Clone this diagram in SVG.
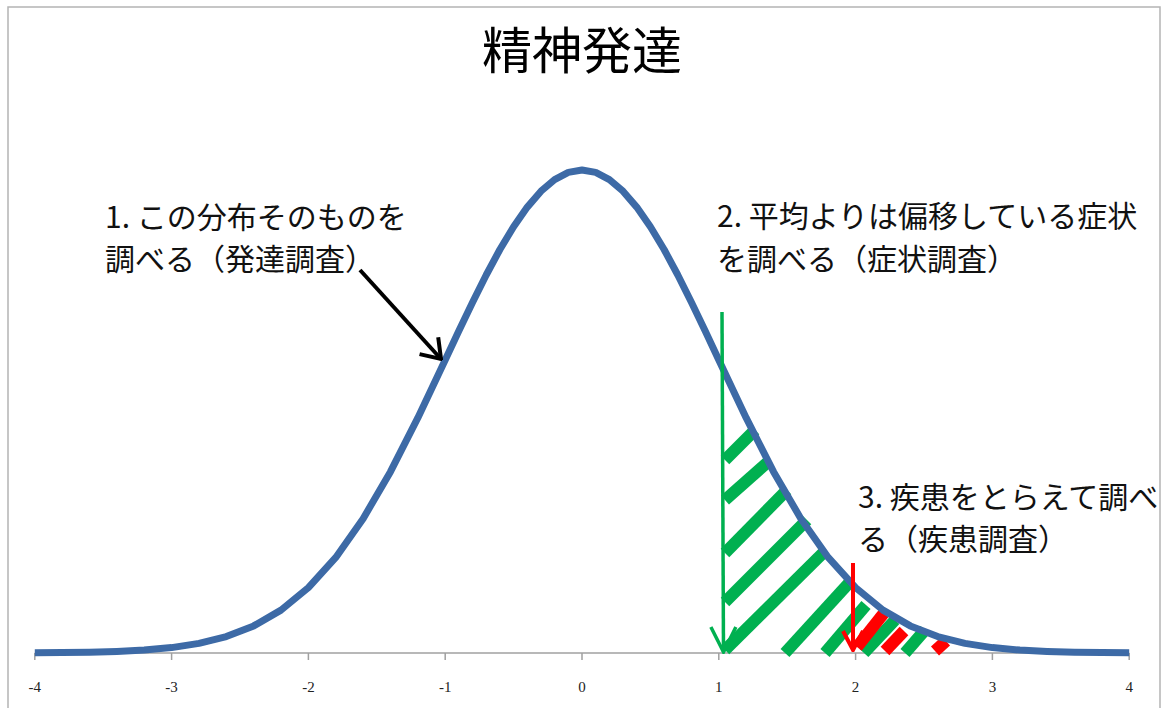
<svg xmlns="http://www.w3.org/2000/svg" width="1168" height="708" viewBox="0 0 1168 708">
<style>
.frame{stroke:#b4b4b4;stroke-width:1.5;fill:none}
.axis{stroke:#a0a0a0;stroke-width:1.5;fill:none}
.tick{font-family:"Liberation Serif","DejaVu Serif",serif;font-size:15px;fill:#222;text-anchor:middle}
.title{font-family:"Noto Sans CJK JP","Noto Sans CJK SC",sans-serif;font-size:50px;fill:#000;text-anchor:middle}
.lbl{font-family:"Noto Sans CJK JP","Noto Sans CJK SC",sans-serif;font-size:30px;fill:#111}
.curve{stroke:#3d6aa6;stroke-width:7;fill:none;stroke-linejoin:round;stroke-linecap:butt}
.gs{stroke:#00b050;stroke-width:12;stroke-linecap:butt}
.rs{stroke:#ff0000;stroke-width:12;stroke-linecap:butt}
</style>
<defs>
<marker id="ahBlack" markerUnits="userSpaceOnUse" viewBox="-22 -16 24 32" markerWidth="24" markerHeight="32" refX="0" refY="0" orient="auto">
<path d="M-18,-12.6 L0,0 L-18,12.6" fill="none" stroke="#000" stroke-width="4"/>
</marker>
<marker id="ahGreen" markerUnits="userSpaceOnUse" viewBox="-28 -16 30 32" markerWidth="30" markerHeight="32" refX="0" refY="0" orient="auto">
<path d="M-25,-12.5 L0,0 L-25,12.5" fill="none" stroke="#00b050" stroke-width="3.5"/>
</marker>
<marker id="ahRed" markerUnits="userSpaceOnUse" viewBox="-22 -14 24 28" markerWidth="24" markerHeight="28" refX="0" refY="0" orient="auto">
<path d="M-19,-10 L0,0 L-19,10" fill="none" stroke="#ff0000" stroke-width="4"/>
</marker>
</defs>
<rect width="1168" height="708" fill="#fff"/>
<g id="frame">
<path class="frame" d="M8,708 L8,7 L1160,7 L1160,708"/>
</g>
<g id="title">
<text class="title" x="582" y="69">精神発達</text>
</g>
<g id="axis">
<path class="axis" d="M34.8,653 L1129.2,653"/>
<path class="axis" d="M34.8,653 V660 M171.6,653 V660 M308.4,653 V660 M445.2,653 V660 M582,653 V660 M718.8,653 V660 M855.6,653 V660 M992.4,653 V660 M1129.2,653 V660"/>
<text class="tick" x="34.8" y="692">-4</text>
<text class="tick" x="171.6" y="692">-3</text>
<text class="tick" x="308.4" y="692">-2</text>
<text class="tick" x="445.2" y="692">-1</text>
<text class="tick" x="582" y="692">0</text>
<text class="tick" x="718.8" y="692">1</text>
<text class="tick" x="855.6" y="692">2</text>
<text class="tick" x="992.4" y="692">3</text>
<text class="tick" x="1129.2" y="692">4</text>
</g>
<g id="hatch">
<line class="gs" x1="725" y1="460" x2="755" y2="430"/>
<line class="gs" x1="725" y1="500" x2="769" y2="461"/>
<line class="gs" x1="725" y1="553" x2="787" y2="490"/>
<line class="gs" x1="725" y1="602" x2="807" y2="520"/>
<line class="gs" x1="725" y1="650" x2="825" y2="551"/>
<line class="gs" x1="785" y1="653" x2="849" y2="583"/>
<line class="gs" x1="825" y1="653" x2="866" y2="605"/>
<line class="gs" x1="864" y1="653" x2="895" y2="620"/>
<line class="gs" x1="905" y1="653" x2="925" y2="630"/>
<line class="rs" x1="857" y1="647" x2="884" y2="613"/>
<line class="rs" x1="885" y1="651" x2="904" y2="631"/>
<line class="rs" x1="935" y1="651" x2="946" y2="641"/>
</g>
<g id="curve">
<polyline class="curve" points="34.8,652.8 62.2,652.6 89.5,652.3 116.9,651.5 144.2,650.1 171.6,647.6 199.0,643.4 226.3,636.6 253.7,625.9 281.0,610.1 308.4,587.6 335.8,557.4 363.1,518.7 390.5,471.7 417.8,417.9 445.2,360.1 458.9,330.8 472.6,302.3 486.2,275.0 499.9,249.5 513.6,226.8 527.3,207.1 541.0,191.2 554.6,179.6 568.3,172.4 582,170 595.7,172.4 609.4,179.6 623.0,191.2 636.7,207.1 650.4,226.8 664.1,249.5 677.8,275.0 691.4,302.3 705.1,330.8 718.8,360.1 746.2,417.9 773.5,471.7 800.9,518.7 828.2,557.4 855.6,587.6 883.0,610.1 910.3,625.9 937.7,636.6 965.0,643.4 992.4,647.6 1019.8,650.1 1047.1,651.5 1074.5,652.3 1101.8,652.6 1129.2,652.8"/>
</g>
<g id="label1">
<text class="lbl" x="105" y="228">1. この分布そのものを</text>
<text class="lbl" x="105" y="270">調べる（発達調査）</text>
</g>
<g id="label2">
<text class="lbl" x="717" y="227">2. 平均よりは偏移している症状</text>
<text class="lbl" x="717" y="270">を調べる（症状調査）</text>
</g>
<g id="label3">
<text class="lbl" x="858" y="508">3. 疾患をとらえて調べ</text>
<text class="lbl" x="858" y="550">る（疾患調査）</text>
</g>
<g id="connectors">
<line x1="360" y1="270" x2="441" y2="359" stroke="#000" stroke-width="4" marker-end="url(#ahBlack)"/>
<line x1="722" y1="312" x2="723.5" y2="652" stroke="#00b050" stroke-width="3.5" marker-end="url(#ahGreen)"/>
<line x1="853" y1="563" x2="853" y2="650" stroke="#ff0000" stroke-width="4" marker-end="url(#ahRed)"/>
</g>
</svg>
